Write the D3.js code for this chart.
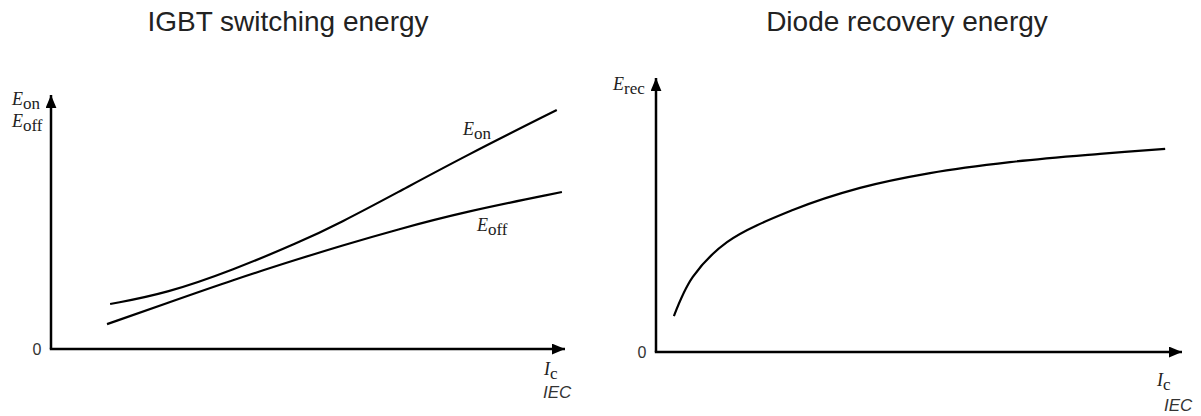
<!DOCTYPE html>
<html>
<head>
<meta charset="utf-8">
<style>
body { margin: 0; background: #fff; }
.axis-line { stroke: #000; stroke-width: 2.5; fill: none; }
.curve { stroke: #000; stroke-width: 2.2; fill: none; }
</style>
</head>
<body>
<svg id="container" width="1201" height="416"></svg>
<script src="https://cdn.jsdelivr.net/npm/d3@7"></script>
<script>
// values (relative units, 0..100 on both axes)
var eonIc   = [11.5, 22.6, 35.4, 48.4, 56.2, 67.3, 80.2, 98.4];
var eonE    = [17.7, 22.0, 31.1, 42.1, 49.6, 61.5, 75.6, 94.1];
var eoffIc  = [10.9, 22.6, 35.4, 48.4, 56.2, 67.3, 80.2, 99.4];
var eoffE   = [9.8, 18.1, 27.2, 35.6, 40.5, 47.0, 53.9, 61.8];
var erecIc  = [3.4, 7.0, 13.5, 26.0, 38.8, 52.1, 67.3, 84.4, 96.8];
var erecE   = [13.1, 27.4, 40.1, 51.8, 59.9, 65.3, 69.3, 72.3, 74.1];
var titles  = ["IGBT switching energy", "Diode recovery energy"];

var sans = "'Liberation Sans', Arial, sans-serif";
var serif = "'Liberation Serif', 'Times New Roman', serif";

var svg = d3.select("#container");

// arrow head marker
svg.append("defs").append("marker")
  .attr("id", "arrow")
  .attr("viewBox", "0 0 12 10")
  .attr("refX", 12).attr("refY", 5)
  .attr("markerUnits", "userSpaceOnUse")
  .attr("markerWidth", 13).attr("markerHeight", 11)
  .attr("orient", "auto")
  .append("path").attr("d", "M0,0 L12,5 L0,10 Z").attr("fill", "#000");

var zip = (a, b) => a.map((v, i) => [v, b[i]]);

// panel layout
var panels = [
  {title: titles[0], tx: 288, x0: 51, x1: 565, y0: 349, y1: 95,
   series: [zip(eonIc, eonE), zip(eoffIc, eoffE)], curve: d3.curveBasis},
  {title: titles[1], tx: 907, x0: 656, x1: 1182, y0: 352, y1: 78,
   series: [zip(erecIc, erecE)], curve: d3.curveCatmullRom.alpha(0.5)}
];

panels.forEach(function(p) {
  p.x = d3.scaleLinear().domain([0, 100]).range([p.x0, p.x1]);
  p.y = d3.scaleLinear().domain([0, 100]).range([p.y0, p.y1]);

  svg.append("text")
    .attr("x", p.tx).attr("y", 31)
    .attr("text-anchor", "middle")
    .attr("font-family", sans).attr("font-size", 28).attr("fill", "#222")
    .text(p.title);

  // axes with arrows
  svg.append("line").attr("class", "axis-line")
    .attr("x1", p.x(0)).attr("y1", p.y(0)).attr("x2", p.x(0)).attr("y2", p.y(100))
    .attr("marker-end", "url(#arrow)");
  svg.append("line").attr("class", "axis-line")
    .attr("x1", p.x(0) - 1.2).attr("y1", p.y(0)).attr("x2", p.x(100)).attr("y2", p.y(0))
    .attr("marker-end", "url(#arrow)");

  svg.append("text")
    .attr("x", p.x(0) - 14).attr("y", p.y(0) + 6)
    .attr("text-anchor", "middle")
    .attr("font-family", sans).attr("font-size", 16).attr("fill", "#333")
    .text("0");

  var line = d3.line()
    .x(d => p.x(d[0]))
    .y(d => p.y(d[1]))
    .curve(p.curve);

  svg.selectAll(null).data(p.series).enter()
    .append("path").attr("class", "curve").attr("d", line);
});

// symbol label: italic letter with upright subscript
function sym(x, y, sub) {
  var t = svg.append("text")
    .attr("x", x).attr("y", y)
    .attr("font-family", serif).attr("font-size", 18).attr("fill", "#222");
  t.append("tspan").attr("font-style", "italic").text(sub === "c" ? "I" : "E");
  t.append("tspan").attr("dy", 4).attr("font-size", 17).text(sub);
  return t;
}

sym(12, 105, "on");
sym(12, 127, "off");
sym(463, 135, "on");
sym(477, 231, "off");
sym(613, 90, "rec");
sym(544, 375, "c");
sym(1157, 386, "c");

function iec(x, y) {
  svg.append("text")
    .attr("x", x).attr("y", y)
    .attr("font-family", sans).attr("font-style", "italic")
    .attr("font-size", 17).attr("fill", "#333")
    .text("IEC");
}
iec(543, 398);
iec(1164, 411);
</script>
</body>
</html>
